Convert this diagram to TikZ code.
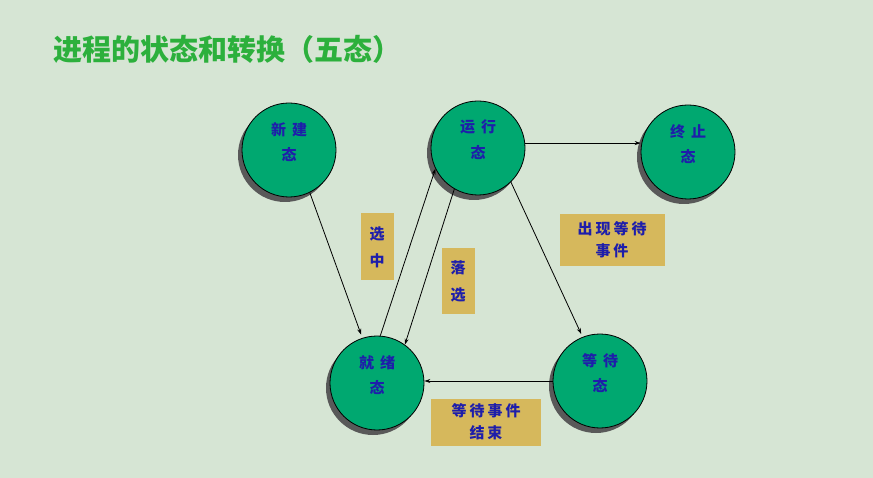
\documentclass[tikz,border=0pt]{standalone}
\usepackage{fontspec}
\newfontfamily\cjk{Noto Sans CJK SC}
\usepackage{tikz}
\usetikzlibrary{positioning,arrows.meta,shadows}

\definecolor{bgcol}{RGB}{214,229,212}
\definecolor{statecol}{RGB}{0,168,112}
\definecolor{notecol}{RGB}{214,184,92}
\definecolor{textcol}{RGB}{30,30,170}
\definecolor{titlecol}{RGB}{44,176,60}

% two-line state name, lifted a little above the centre
\newcommand{\stname}[2]{\raisebox{6pt}[\height][\depth]{\begin{tabular}{@{}c@{}}#1\\[7pt]#2\end{tabular}}}

\begin{document}
\begin{tikzpicture}[
  x=1pt, y=-1pt,
  >={Stealth[length=6pt,width=4pt]},
  state/.style={circle, draw, thick, fill=statecol, minimum size=94pt, inner sep=0pt,
    font=\cjk\bfseries\fontsize{15}{18}\selectfont, text=textcol,
    drop shadow={shadow xshift=-4pt, shadow yshift=-5pt, fill=black!65, opacity=1}},
  note/.style={fill=notecol, align=center, inner sep=0pt, font=\cjk\bfseries\fontsize{15}{22}\selectfont, text=textcol},
  link/.style={->, line width=0.8pt}
]
  \fill[bgcol] (0,0) rectangle (873,478);
  \useasboundingbox (0,0) rectangle (873,478);

  \node[anchor=west, text=titlecol, font=\cjk\bfseries\fontsize{29}{30}\selectfont] (title) at (50,49) {进程的状态和转换（五态）};

  % five states
  \node[state] (new)  at (289,150) {\stname{新\hspace{6pt}建}{态}};
  \node[state] (run)  at (478,148) {\stname{运\hspace{6pt}行}{态}};
  \node[state] (term) at (688,152) {\stname{终\hspace{6pt}止}{态}};
  \node[state] (ready) at (377,383) {\stname{就\hspace{6pt}绪}{态}};
  \node[state] (wait) at (600,381) {\stname{等\hspace{6pt}待}{态}};

  % labels
  \node[note, minimum width=33pt, minimum height=67pt, font=\cjk\bfseries\fontsize{15}{27}\selectfont] (pick) at (377,247) {选\\中};
  \node[note, minimum width=33pt, minimum height=66pt, font=\cjk\bfseries\fontsize{15}{27}\selectfont] (drop) at (458,281) {落\\选};
  \node[note, minimum width=105pt, minimum height=52pt] (evt) at (612,240) {出\hspace{3pt}现\hspace{3pt}等\hspace{3pt}待\\事\hspace{3pt}件};
  \node[note, minimum width=110pt, minimum height=47pt] (done) at (486,422) {等\hspace{3pt}待\hspace{3pt}事\hspace{3pt}件\\结\hspace{3pt}束};

  % transitions
  \draw[link] (new.-64) -- ([shift={(-2,-3)}]ready.107);
  \draw[link] (ready.86) -- (run.206);
  \draw[link] (run.240) -- (ready.54);
  \draw[link] (run.6) -- (run.6 -| term.west);
  \draw[link] (run.-46) -- ([shift={(-1,-3)}]wait.112);
  \draw[link] (wait.west) -- (wait.west -| ready.east);
\end{tikzpicture}
\end{document}
